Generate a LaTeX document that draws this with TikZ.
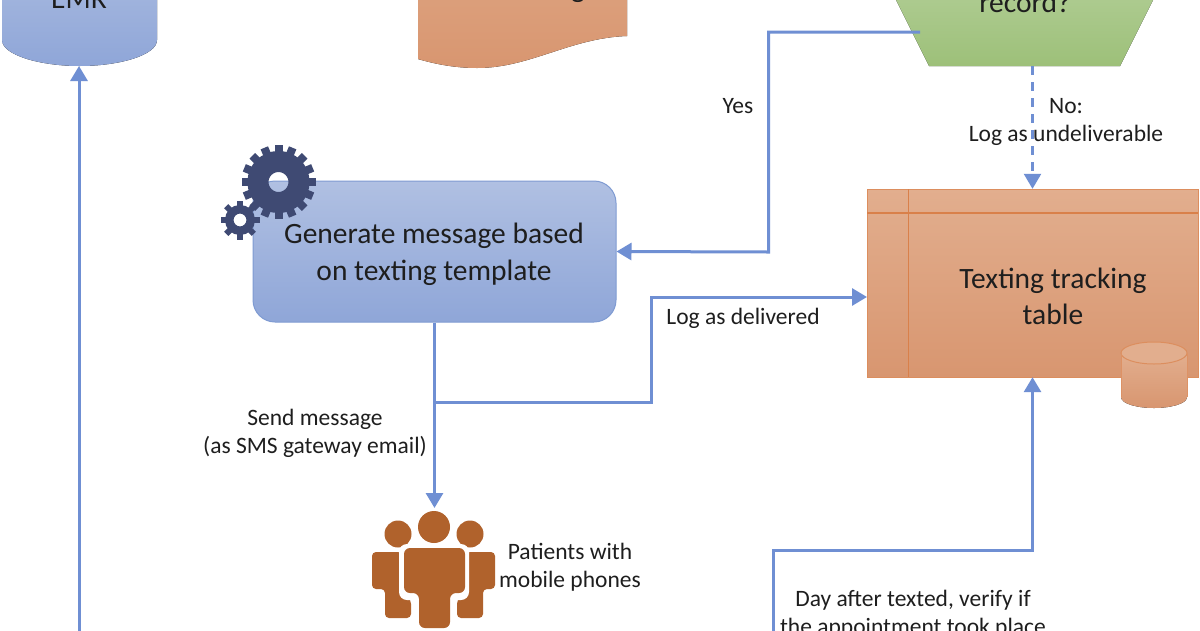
\documentclass[tikz,border=0pt]{standalone}
\usepackage{fontspec}
\setmainfont{Carlito}
\definecolor{lineblue}{HTML}{6F8FD3}
\definecolor{bluetop}{HTML}{B0C0E2}
\definecolor{bluebot}{HTML}{8FA6D8}
\definecolor{blueedge}{HTML}{7F9BD2}
\definecolor{orangetop}{HTML}{E2AE8E}
\definecolor{orangebot}{HTML}{D89670}
\definecolor{orangeedge}{HTML}{D9804A}
\definecolor{greentop}{HTML}{B3CF98}
\definecolor{greenbot}{HTML}{9DC079}
\definecolor{geardark}{HTML}{3F4A73}
\definecolor{people}{HTML}{B0622C}
\definecolor{txt}{HTML}{1E1E1E}
\usetikzlibrary{arrows.meta}
\tikzset{
  conn/.style={draw=lineblue,line width=3pt,-{Triangle[length=15pt,width=17pt]}},
  plainconn/.style={draw=lineblue,line width=3pt},
  lab/.style={font=\fontsize{23.5}{28}\selectfont,text=txt,align=center,inner sep=0pt},
  big/.style={font=\fontsize{29.5}{36.5}\selectfont,text=txt,align=center,inner sep=0pt},
  bluefill/.style={top color=bluetop,bottom color=bluebot,draw=blueedge,line width=1pt},
}
% centre x, centre y, body radius, tooth tip radius, hole radius, teeth, tooth width
\newcommand{\cogwheel}[7]{%
  \draw[geardark,line width={(#3-#5)*1pt}] (#1,#2) circle [radius={(#3+#5)/2}];
  \foreach \a in {1,...,#6}{
    \fill[geardark,shift={(#1,#2)},rotate=\a*360/#6]
      (#3-2,-#7/2) rectangle (#4,#7/2);
  }
}
\begin{document}
\begin{tikzpicture}[x=1pt,y=-1pt]
\useasboundingbox (0,0) rectangle (1200,630);
\clip (0,0) rectangle (1200,630);
\fill[white] (0,0) rectangle (1200,630);

% EMR cylinder
\fill[top color=bluetop!70!bluebot,bottom color=bluebot] (2,-30) -- (157,-30) -- (157,40)
  .. controls (157,55) and (120,66) .. (79.5,66) .. controls (40,66) and (2,55) .. (2,40) -- cycle;
\node[big,anchor=base] (emr) at (79,8) {EMR};

% orange document
\fill[top color=orangetop!50!orangebot,bottom color=orangebot] (418,-30) -- (627,-30) -- (627,36)
  .. controls (570,38) and (530,68) .. (477,68) .. controls (455,68) and (435,64) .. (418,59) -- cycle;
\node[big,anchor=base] (doc) at (578,-3) {g};

% decision
\fill[top color=greentop,bottom color=greenbot] (881,-30) -- (1168,-30) -- (1120,66) -- (929,66) -- cycle;
\node[big,anchor=base] (dec) at (1025,12) {record?};

% generate box
\node[bluefill,rounded corners=22pt,minimum width=363pt,minimum height=141pt,inner sep=0pt] (gen) at (434.5,251.5) {};
\node[big] (gentext) at (434,254.5) {Generate message based\\on texting template};

% gears
\cogwheel{278.5}{182}{31}{37}{10}{16}{8}
\cogwheel{240}{220}{15}{19.5}{6.5}{8}{6}

% table
\fill[top color=orangetop,bottom color=orangebot] (867,189) rectangle (1198,377);
\node[minimum width=331pt,minimum height=188pt,inner sep=0pt] (tbl) at (1032.5,283) {};
\draw[orangeedge!70!orangetop,line width=1pt] (867,189) rectangle (1198,377);
\draw[orangeedge,line width=1.2pt] (867,213) -- (1198,213) (908.5,189) -- (908.5,377);
\node[big] (tbltext) at (1053,296.5) {Texting tracking\\table};

% small cylinder
\fill[top color=orangetop,bottom color=orangebot] (1121,353) -- (1121,397)
  .. controls (1121,404) and (1138,408) .. (1154,408) .. controls (1170,408) and (1187,404) .. (1187,397) -- (1187,353) -- cycle;
\draw[orangeedge!70!orangetop,line width=1pt,fill=orangetop] (1154,353) ellipse [x radius=33,y radius=11];
\draw[orangeedge!60!orangetop,line width=1pt] (1121,353) -- (1121,397) (1187,353) -- (1187,397);

% people
\begin{scope}[people]
\fill (398,534) circle (13.5);
\fill (470,534) circle (13.5);
\fill (434,527) circle (16);
\fill[rounded corners=4pt] (372,552) -- (402,552) -- (400,590) -- (411,600) -- (411,618) -- (385,618) -- (385,589) -- (372,589) -- cycle;
\fill[rounded corners=4pt] (495,552) -- (466,552) -- (468,590) -- (457,600) -- (457,618) -- (483,618) -- (483,589) -- (495,589) -- cycle;
\fill[white,rounded corners=8pt] (399,544) rectangle (469,600);
\fill[rounded corners=6pt] (404,548) -- (465,548) -- (465,593) -- (450,593) -- (450,628) -- (419,628) -- (419,593) -- (404,593) -- cycle;
\end{scope}
\node[lab] (pat) at (570,567) {Patients with\\mobile phones};

% connectors
\coordinate (decleft) at (920,32);
\coordinate (yesbend) at (768.5,32);
\coordinate (yesbend2) at (768.5,252);
\draw[conn] (decleft) -- (yesbend) -- (yesbend2) -- (gen.east);

\coordinate (split) at (434.5,402);
\coordinate (logbend) at (651,402);
\coordinate (logbend2) at (651,297);
\coordinate (tblin) at (867,297);
\coordinate (patin) at (434.5,508);
\draw[plainconn] (gen.south) -- (split);
\draw[conn] (split) -- (patin);
\draw[conn] (split) -- (logbend) -- (logbend2) -- (tblin);

\coordinate (decbot) at (1032.5,66);
\draw[conn,line width=2.5pt,dash pattern=on 9pt off 7pt] (decbot) -- (tbl.north);

\coordinate (empbot) at (79,640);
\coordinate (emrbot) at (79,66);
\draw[conn] (empbot) -- (emrbot);

\coordinate (daystart) at (773,640);
\coordinate (daybend) at (773,550);
\coordinate (daybend2) at (1032.5,550);
\draw[conn] (daystart) -- (daybend) -- (daybend2) -- (tbl.south);

% labels
\node[lab] (yes) at (738,106) {Yes};
\node[lab] (no) at (1066,122) {No:\\Log as undeliverable};
\node[lab] (logd) at (743,318) {Log as delivered};
\node[lab] (send) at (315,433.5) {Send message\\(as SMS gateway email)};
\node[lab] (day) at (913,614) {Day after texted, verify if\\the appointment took place};
\end{tikzpicture}
\end{document}
